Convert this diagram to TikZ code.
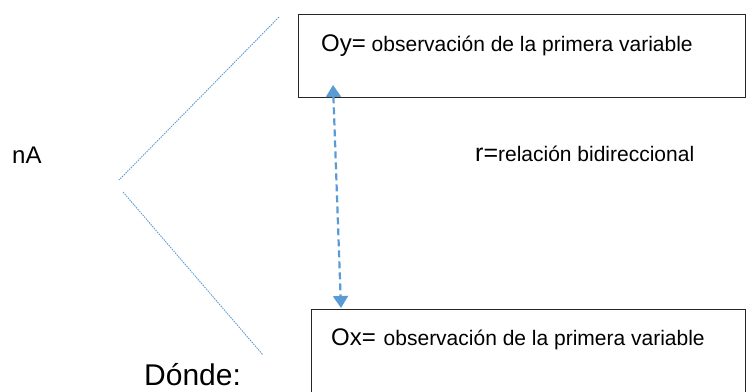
\documentclass[tikz,border=0pt]{standalone}
\usepackage{fontspec}
\setmainfont{Liberation Sans}
\usetikzlibrary{arrows.meta}
\definecolor{relblue}{RGB}{91,155,213}

\begin{document}
\begin{tikzpicture}[x=1pt, y=-1pt,
    box/.style={draw=black!85, line width=1.2pt, inner sep=0pt, anchor=north west},
    big/.style={font=\fontsize{24}{28}\selectfont, inner sep=0pt, anchor=base west},
    guide/.style={draw=relblue, line width=0.9pt, dash pattern=on 1.5pt off 1pt},
    rel/.style={draw=relblue, line width=2.2pt, dash pattern=on 7pt off 4pt,
        {Triangle[width=15pt,length=12pt]}-{Triangle[width=15pt,length=12pt]}}]
    \path[use as bounding box, clip] (0,0) rectangle (746,391);

    % boxes
    \node[box, minimum width=447pt, minimum height=83pt] (oybox) at (298,14) {};
    \node[box, minimum width=434pt, minimum height=100pt] (oxbox) at (311,309) {};

    \node[big] (oy) at (321,51) {Oy={\fontsize{21}{24}\selectfont\ observación de la primera variable}};
    \node[big] (ox) at (331,345) {Ox={\fontsize{21}{24}\selectfont\ \hspace{2pt}observación de la primera variable}};

    \node[big] (na) at (12,163) {nA};
    \node[big, font=\fontsize{25}{28}\selectfont] (r) at (475,161) {r={\fontsize{21}{24}\selectfont relación bidireccional}};
    \node[big, font=\fontsize{30}{34}\selectfont] (donde) at (144,385) {Dónde:};

    % branches
    \coordinate (up1) at (279,17);
    \coordinate (up2) at (119,180);
    \coordinate (lo1) at (123,192);
    \coordinate (lo2) at (263,355);
    \draw[guide] (up1) -- (up2);
    \draw[guide] (lo1) -- (lo2);

    % relation
    \coordinate (rtop) at (333,85);
    \coordinate (rbot) at (341,308);
    \draw[rel] (rtop) -- (rbot);
\end{tikzpicture}
\end{document}
